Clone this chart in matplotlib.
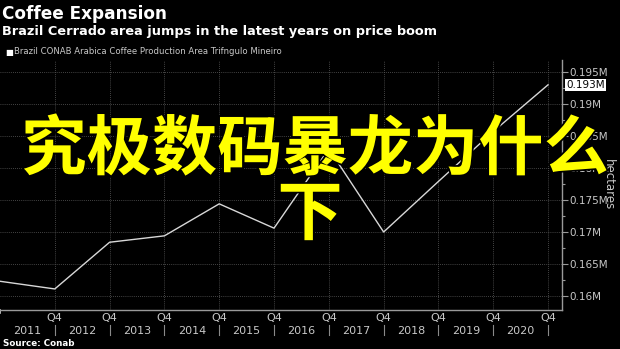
import matplotlib
matplotlib.use("Agg")
import matplotlib.pyplot as plt
import matplotlib.patheffects as pe
from matplotlib.ticker import FuncFormatter, MultipleLocator
import matplotlib.transforms as mtransforms

# Triangulo Mineiro arabica area (million hectares), Q4 of each year
periods = ["Q4 2010", "Q4 2011", "Q4 2012", "Q4 2013", "Q4 2014", "Q4 2015",
           "Q4 2016", "Q4 2017", "Q4 2018", "Q4 2019", "Q4 2020"]
area_m = [0.1623, 0.1611, 0.1684, 0.1694, 0.1744, 0.1706,
          0.1830, 0.1700, 0.1779, 0.1857, 0.1930]
years = [2011, 2012, 2013, 2014, 2015, 2016, 2017, 2018, 2019, 2020]
y_ticks = [0.16, 0.165, 0.17, 0.175, 0.18, 0.185, 0.19, 0.195]

GREY = "#c8c8c8"
plt.rcParams["font.family"] = ["DejaVu Sans"]

fig = plt.figure(figsize=(6.2, 3.49), dpi=100, facecolor="black")
ax = fig.add_axes([0.0, 1 - 310 / 349, 562 / 620, 250 / 349], facecolor="black")

x = list(range(len(area_m)))
ax.plot(x, area_m, color="#d8d8d8", lw=1.0, zorder=3)

ax.set_xlim(0, 10.255)
ax.set_ylim(0.15781, 0.19688)

# grid
ax.set_xticks(range(1, 11))
ax.set_xticklabels(["Q4"] * 10)
ax.set_yticks(y_ticks)
ax.yaxis.set_minor_locator(MultipleLocator(0.0025))
ax.grid(True, color="#5a5a5a", ls=(0, (1, 1.5)), lw=0.6)
ax.set_axisbelow(True)

for s in ["top", "left"]:
    ax.spines[s].set_visible(False)
for s in ["bottom", "right"]:
    ax.spines[s].set_color("#9a9a9a")
    ax.spines[s].set_linewidth(1.0)

ax.yaxis.tick_right()
ax.yaxis.set_label_position("right")
ax.yaxis.set_major_formatter(FuncFormatter(lambda v, p: f"{v:g}M"))
ax.tick_params(axis="y", which="major", colors="#9a9a9a", labelcolor=GREY,
               length=4, width=0.8, labelsize=7.5, pad=1.5)
ax.tick_params(axis="y", which="minor", colors="#9a9a9a", length=2.5, width=0.8)
ax.tick_params(axis="x", length=0, labelcolor=GREY, labelsize=8, pad=2)
ax.set_ylabel("hectares", color=GREY, fontsize=8.5, rotation=270,
              ha="center", va="center")
ax.yaxis.set_label_coords(608 / 562, 0.5)

# year labels between quarter ticks, with separators
trans = mtransforms.blended_transform_factory(ax.transData, ax.transAxes)
for i, yr in enumerate(years):
    ax.text(i + 0.5, -0.084, str(yr), transform=trans, ha="center", va="center",
            color=GREY, fontsize=8)
    ax.plot([i + 1, i + 1], [-0.06, -0.10], transform=trans, color="#8a8a8a",
            lw=0.8, clip_on=False)
ax.plot([0, 0], [0, -0.012], transform=trans, color="#d0d0d0", lw=1.2,
        clip_on=False)

# last value tag
ax.annotate(f"{area_m[-1]:g}M", xy=(1.0, area_m[-1]),
            xycoords=("axes fraction", "data"), xytext=(3, 0),
            textcoords="offset points", ha="left", va="center", fontsize=7.5,
            color="black", bbox=dict(boxstyle="square,pad=0.12", fc="white",
                                     ec="none"))

# headings
fig.text(0.003, 1 - 14 / 349, "Coffee Expansion", color="white",
         fontsize=12.2, fontweight="bold", va="center", ha="left")
fig.text(0.003, 1 - 32 / 349,
         "Brazil Cerrado area jumps in the latest years on price boom",
         color="white", fontsize=9.3, fontweight="bold", va="center", ha="left")
fig.text(0.008, 1 - 52 / 349, "\u25a0", color="white", fontsize=6,
         va="center", ha="left")
fig.text(0.022, 1 - 52 / 349,
         "Brazil CONAB Arabica Coffee Production Area Trifngulo Mineiro",
         color=GREY, fontsize=6.1, va="center", ha="left")
fig.text(0.005, 1 - 343 / 349, "Source: Conab", color="white", fontsize=6.3,
         fontweight="bold", va="center", ha="left")

# overlay caption
outline = [pe.withStroke(linewidth=2.5, foreground="black")]
fig.text(0.508, 1 - 150 / 349, "究极数码暴龙为什么", color="#ffff00",
         fontsize=47, fontweight="bold", ha="center", va="center",
         family=["Noto Sans CJK SC", "DejaVu Sans"], path_effects=outline)
fig.text(0.5, 1 - 215 / 349, "下", color="#ffff00",
         fontsize=47, fontweight="bold", ha="center", va="center",
         family=["Noto Sans CJK SC", "DejaVu Sans"], path_effects=outline)

fig.savefig("out.png", dpi=100, facecolor="black")
